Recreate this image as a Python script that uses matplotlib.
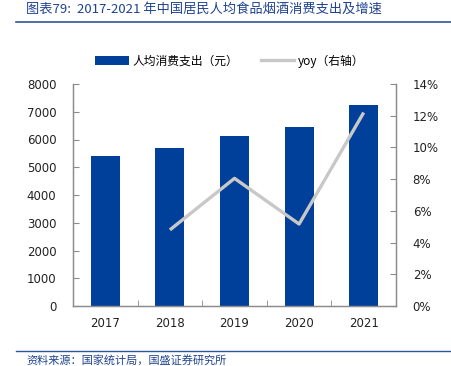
import matplotlib
matplotlib.use("Agg")
import matplotlib.pyplot as plt
from matplotlib.patches import Patch
from matplotlib.lines import Line2D
from matplotlib.ticker import FuncFormatter, FixedLocator
import numpy as np

plt.rcParams['font.family'] = ['Noto Sans CJK SC', 'DejaVu Sans']

years = ["2017", "2018", "2019", "2020", "2021"]
spend = [5416, 5683, 6137, 6450, 7232]
yoy_years = ["2018", "2019", "2020", "2021"]
yoy = [4.8, 8.05, 5.17, 12.2]

title = "图表79:  2017-2021 年中国居民人均食品烟酒消费支出及增速"
source = "资料来源：国家统计局，国盛证券研究所"
bar_label = "人均消费支出（元）"
line_label = "yoy（右轴）"

bar_color = "#00409A"
line_color = "#C8C8C8"
spine_color = "#8C8C8C"
title_color = "#1F4391"

fig = plt.figure(figsize=(4.52, 3.66), dpi=100)
ax = fig.add_axes([73/452, 1-306/366, (396-73)/452, (306-84)/366])
ax2 = ax.twinx()

x = np.arange(len(years))
ax.bar(x, spend, width=0.45, color=bar_color, zorder=2)
xi = [years.index(y) for y in yoy_years]
ax2.plot(xi, yoy, color=line_color, lw=2.4, solid_capstyle='butt', zorder=3)

ax.set_xlim(-0.5, len(years) - 0.5)
ax.set_ylim(0, 8000)
ax.set_yticks(np.arange(0, 8001, 1000))
ax2.set_ylim(0, 14)
ax2.set_yticks(np.arange(0, 14.1, 2))
ax2.yaxis.set_major_formatter(FuncFormatter(lambda v, p: f"{int(round(v))}%"))

ax.set_xticks(x)
ax.set_xticklabels(years)
ax.xaxis.set_minor_locator(FixedLocator(np.arange(-0.5, len(years), 1.0)))
ax.tick_params(axis='x', which='major', length=0, pad=8, labelsize=9, labelcolor='#222222')
ax.tick_params(axis='x', which='minor', direction='in', length=4, color=spine_color)
ax.tick_params(axis='y', direction='in', length=4, color=spine_color, labelsize=9, labelcolor='#222222', pad=12)
ax2.tick_params(axis='y', direction='in', length=4, color=spine_color, labelsize=9, labelcolor='#222222', pad=12)
for lbl in ax.get_xticklabels() + ax.get_yticklabels() + ax2.get_yticklabels():
    lbl.set_family('DejaVu Sans')
    lbl.set_fontsize(8.5)

for a in (ax, ax2):
    a.spines['top'].set_visible(False)
    for s in ('left', 'right', 'bottom'):
        a.spines[s].set_color(spine_color)
        a.spines[s].set_linewidth(0.9)

ax.set_zorder(ax2.get_zorder() - 1)
ax2.patch.set_visible(False)

handles = [Patch(facecolor=bar_color, edgecolor='none'),
           Line2D([], [], color=line_color, lw=2.4)]
leg = fig.legend(handles, [bar_label, line_label], loc='center', ncol=2,
           bbox_to_anchor=(230/452, 1-61/366), frameon=False, fontsize=8.5,
           handlelength=2.8, handleheight=0.8, handletextpad=0.3, columnspacing=2.0)

fig.text(26/452, 1-9/366, title, fontsize=9.5, color=title_color, style='italic',
         ha='left', va='center')
fig.add_artist(Line2D([16/452, 1.0], [1-22/366, 1-22/366], color='#2F5597', lw=1.2))
fig.add_artist(Line2D([16/452, 1.0], [1-351/366, 1-351/366], color='#2F5597', lw=1.0))
fig.text(26/452, 1-360/366, source, fontsize=8, color=title_color, style='italic',
         ha='left', va='center')

fig.savefig("out.png", dpi=100)
